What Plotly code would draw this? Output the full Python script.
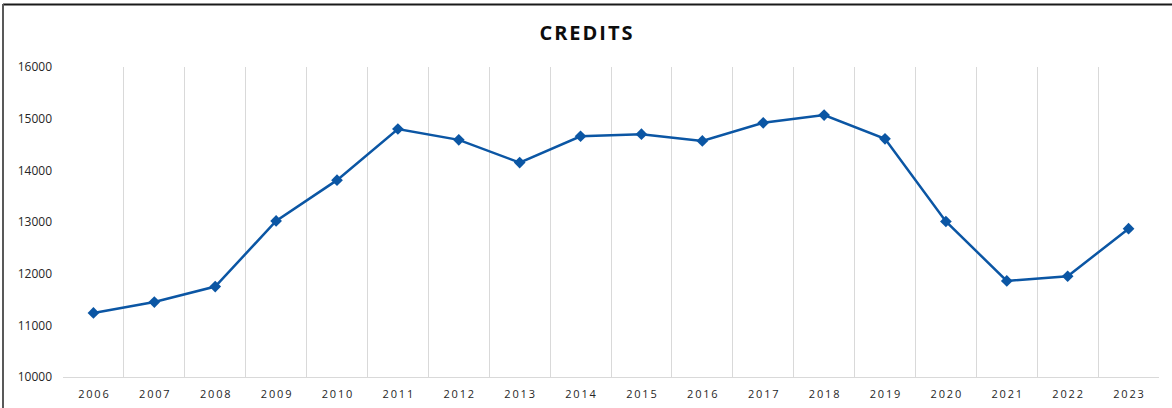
import plotly.graph_objects as go

years = ["2006", "2007", "2008", "2009", "2010", "2011", "2012", "2013", "2014",
         "2015", "2016", "2017", "2018", "2019", "2020", "2021", "2022", "2023"]
credits = [11240, 11450, 11750, 13020, 13810, 14800, 14590, 14150, 14660,
           14700, 14570, 14920, 15070, 14610, 13010, 11860, 11950, 12870]
y_ticks = [10000, 11000, 12000, 13000, 14000, 15000, 16000]

tick_text = ["\u2009".join(y) for y in years]

W, H = 1172, 408
L, R, T, B = 63, 13, 67, 31
pw, ph = W - L - R, H - T - B

def px_x(x):
    return (x - L) / pw

def px_y(y):
    return (H - B - y) / ph

fig = go.Figure()
fig.add_trace(go.Scatter(
    x=years, y=credits, mode="lines+markers",
    line=dict(color="#0B56A4", width=2.5),
    marker=dict(symbol="diamond", size=9, color="#0B56A4"),
    hoverinfo="x+y",
))

fig.update_layout(
    width=W, height=H,
    margin=dict(l=L, r=R, t=T, b=B),
    paper_bgcolor="white", plot_bgcolor="white",
    showlegend=False,
    title=dict(text="<b>C\u200aR\u200aE\u200aD\u200aI\u200aT\u200aS</b>", x=0.5, xanchor="center",
               y=1 - 33 / H, yanchor="middle", xref="container",
               font=dict(family="Open Sans", size=20, color="#0d0d0d")),
    xaxis=dict(type="category", tickmode="array", tickvals=years, ticktext=tick_text,
               tickson="boundaries", showgrid=True, gridcolor="#d9d9d9", gridwidth=1,
               showline=True, linecolor="#d9d9d9", linewidth=1, ticks="",
               tickfont=dict(family="Open Sans", size=11, color="#262626"),
               ticklabelstandoff=7, automargin=False,
               range=[-0.5, len(years) - 0.5], fixedrange=True),
    yaxis=dict(range=[10000, 16000], tickvals=y_ticks, tickformat="d",
               showgrid=False, zeroline=False, showline=False, ticks="",
               tickfont=dict(family="Open Sans", size=12, color="#262626"),
               ticklabelstandoff=10, automargin=False, fixedrange=True),
    shapes=[
        dict(type="line", xref="paper", yref="paper", x0=px_x(3), x1=px_x(W),
             y0=px_y(4.5), y1=px_y(4.5), line=dict(color="#1a1a1a", width=2)),
        dict(type="line", xref="paper", yref="paper", x0=px_x(3), x1=px_x(3),
             y0=px_y(4), y1=px_y(H), line=dict(color="#595959", width=2)),
    ],
)

fig.write_html("out.html", config={"displayModeBar": False},
               post_script="document.body.style.margin='0';")
